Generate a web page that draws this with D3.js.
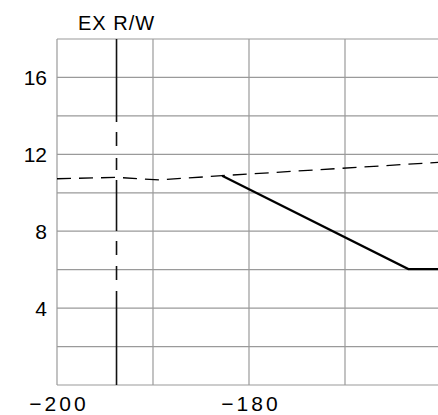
<!DOCTYPE html>
<html><head><meta charset="utf-8">
<script src="https://cdn.jsdelivr.net/npm/d3@7"></script>
<style>
html,body{margin:0;padding:0;background:#fff;}
svg text{font-family:"Liberation Sans",Arial,sans-serif;fill:#000;}
</style></head>
<body>
<svg id="chart" width="438" height="415"></svg>
<script>
// ---- data ----
const xGridValues = [-200, -190, -180, -170, -160];
const xTickLabels = [-200, -180];
const yGridValues = [0, 2, 4, 6, 8, 10, 12, 14, 16, 18];
const yTickLabels = [4, 8, 12, 16];
const rowLabel = "EX R/W";
const rowX = -193.8;
const groundX = [-200, -193.8, -189.3, -182.8, -160];
const groundY = [10.73, 10.80, 10.67, 10.89, 11.59];
const proposedX = [-182.8, -163.4, -160];
const proposedY = [10.89, 6.03, 6.03];

// ---- layout ----
const svg = d3.select("#chart");
const x = d3.scaleLinear().domain([-200, -160]).range([57, 441]);
const y = d3.scaleLinear().domain([0, 18]).range([385, 39]);

svg.append("defs").append("clipPath").attr("id","clip")
  .append("rect").attr("x",56).attr("y",38).attr("width",382).attr("height",348);

const grid = svg.append("g").attr("clip-path","url(#clip)");
grid.selectAll("line.h").data(yGridValues).join("line")
  .attr("x1", x(-200)).attr("x2", x(-160))
  .attr("y1", d=>y(d)).attr("y2", d=>y(d))
  .attr("stroke","#9a9a9a").attr("stroke-width",1.2);
grid.selectAll("line.v").data(xGridValues).join("line")
  .attr("x1", d=>x(d)).attr("x2", d=>x(d))
  .attr("y1", y(0)).attr("y2", y(18))
  .attr("stroke","#9a9a9a").attr("stroke-width",1.2);

// axes (labels only)
const yAxis = svg.append("g").attr("transform","translate(52,0)")
  .call(d3.axisLeft(y).tickValues(yTickLabels).tickSize(0).tickPadding(5).tickFormat(d3.format("d")));
yAxis.select(".domain").remove();
yAxis.selectAll("text").style("font-family","Liberation Sans, Arial, sans-serif")
  .style("font-size","21px").attr("dy","0.35em");

const xAxis = svg.append("g").attr("transform","translate(0,393)")
  .call(d3.axisBottom(x).tickValues(xTickLabels).tickSize(0).tickPadding(0)
    .tickFormat(d => "\u2212" + Math.abs(d)));
xAxis.select(".domain").remove();
xAxis.selectAll("text").style("font-family","Liberation Sans, Arial, sans-serif")
  .style("font-size","21px").style("letter-spacing","3px").attr("dy","0.85em")
  .attr("dx","1.5px");

// plot lines
const plot = svg.append("g").attr("clip-path","url(#clip)");
const line = d3.line().x(d=>x(d[0])).y(d=>y(d[1]));

plot.append("path")
  .attr("d", line(groundX.map((v,i)=>[v, groundY[i]])))
  .attr("fill","none").attr("stroke","#000").attr("stroke-width",1.3)
  .attr("stroke-dasharray","14,8");

plot.append("path")
  .attr("d", line(proposedX.map((v,i)=>[v, proposedY[i]])))
  .attr("fill","none").attr("stroke","#000").attr("stroke-width",2.2);

plot.append("path")
  .attr("d", line([[rowX, 18],[rowX, 0]]))
  .attr("fill","none").attr("stroke","#111").attr("stroke-width",1.6)
  .attr("stroke-dasharray","83,10,14,12,12,10,51,10,14,11,14,11,200");

svg.append("text").attr("x", x(rowX)).attr("y", 30)
  .attr("text-anchor","middle").style("font-size","20px").style("letter-spacing","1px")
  .text(rowLabel);
</script>
</body></html>
